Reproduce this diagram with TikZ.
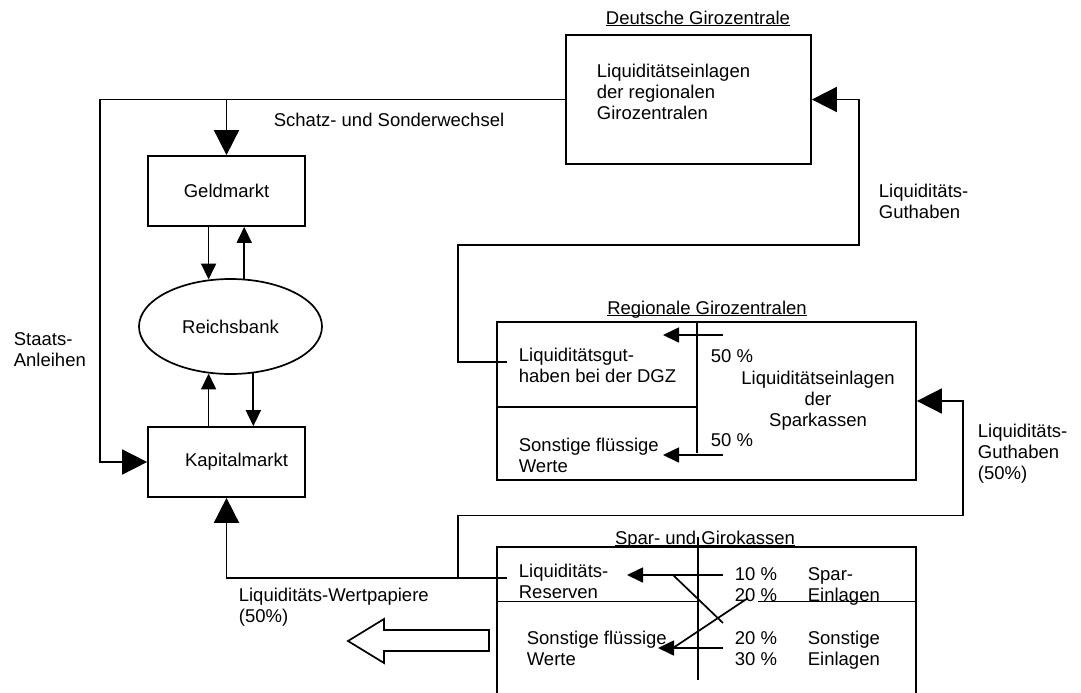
\documentclass[tikz,border=0pt]{standalone}
\usepackage{fontspec}
\setmainfont{Liberation Sans}
\usetikzlibrary{shapes.geometric,arrows.meta}
\newcommand{\ulined}[1]{\underline{\raisebox{0pt}[\height][0pt]{#1}}}
\tikzset{%
  block/.style = {draw, rectangle, inner sep=0pt},
  bank/.style  = {draw, ellipse, inner sep=0pt},
  txt/.style   = {anchor=north west, inner sep=0pt, align=left}, % Text links
  ctxt/.style  = {anchor=north, inner sep=0pt, align=center},   % Text mittig
  flow/.style  = {-{Triangle[length=25pt,width=25pt]}},
  share/.style = {-{Triangle[length=16pt,width=15pt]}}
}
\begin{document}
\begin{tikzpicture}[x=1pt, y=-1pt, line width=1.7pt, font=\fontsize{18.5}{21}\selectfont]
\useasboundingbox (0,0) rectangle (1081,693);
% Deutsche Girozentrale
\node[ctxt] (dgztitle) at (698,10) {\ulined{Deutsche Girozentrale}};
\node[block, minimum width=245, minimum height=129] (dgz) at (688.5,99.5) {};
\node[txt] (dgztext) at (596,63) {Liquiditätseinlagen\\der regionalen\\Girozentralen};
% Reichsbank und Maerkte
\node[block, minimum width=157, minimum height=70] (geld) at (226.5,191) {Geldmarkt};
\node[bank, minimum width=183, minimum height=95] (reich) at (230.5,326.5) {Reichsbank};
\node[block, minimum width=157, minimum height=70] (kapital) at (226.5,462) {\hspace{20pt}Kapitalmarkt};
\draw[share] (geld.south -| reich.115) -- (reich.115);
\draw[share] (reich.74) -- (geld.south -| reich.74);
\draw[share] (reich.245 |- kapital.north) -- (reich.245);
\draw[share] (reich.296) -- (reich.296 |- kapital.north);
\coordinate (staatsknick) at (100,99.5);
\draw[flow] (dgz.west) -- (staatsknick) |- (kapital.west);
\draw[flow] (geld.north |- dgz.west) -- (geld.north);
\node[txt] (schatz) at (273,112) {Schatz- und Sonderwechsel};
\node[txt] (staats) at (13,332) {Staats-\\Anleihen};
% Regionale Girozentralen
\node[ctxt] (rgztitle) at (707,300) {\ulined{Regionale Girozentralen}};
\node[block, minimum width=419, minimum height=158] (rgz) at (706.5,401) {};
\coordinate (rgzmitte) at (697,407);
\coordinate (rgzunten) at (697,453);
\draw (rgz.west |- rgzmitte) -- (rgzmitte);
\draw (rgz.north -| rgzmitte) -- (rgzunten);
\coordinate (dgzanteil) at (723,335);
\coordinate (dgzziel) at (663,335);
\coordinate (sonstanteil) at (723,455);
\coordinate (sonstziel) at (663,455);
\draw[share] (dgzanteil) -- (dgzziel);
\draw[share] (sonstanteil) -- (sonstziel);
\node[txt] (dgzgut) at (518,347) {Liquiditätsgut-\\haben bei der DGZ};
\node[txt] (rgzsonst) at (518,437) {Sonstige flüssige\\Werte};
\node[txt] (anteil1) at (710,349) {50 \%};
\node[txt] (anteil2) at (710,433) {50 \%};
\node[ctxt] (rgzeinlagen) at (818,370) {Liquiditätseinlagen\\der\\Sparkassen};
\coordinate (dgzgutein) at (507,362);
\coordinate (gutknick) at (458,245);
\coordinate (gutrechts) at (859,245);
\draw[flow] (dgzgutein) -| (gutknick) -- (gutrechts) |- (dgz.east);
\node[txt] (guthaben) at (878,183) {Liquiditäts-\\Guthaben};
% Spar- und Girokassen
\node[ctxt] (spartitle) at (705,530) {\ulined{Spar- und Girokassen}};
\draw (497,693) |- (916,547) -- (916,693);
\draw (497,601.5) -- (698,601.5);
\draw (758,601.5) -- (916,601.5);
\draw (698,537) -- (698,680);
\coordinate (reserveanteil) at (723,575);
\coordinate (reserveziel) at (627,575);
\coordinate (werteanteil) at (723,648);
\coordinate (werteziel) at (658,648);
\draw[share] (reserveanteil) -- (reserveziel);
\draw[share] (werteanteil) -- (werteziel);
\draw (673,575) -- (723,623);
\draw (748,598) -- (673,648);
\node[txt] (reserven) at (518,563) {Liquiditäts-\\Reserven};
\node[txt] (sparsonst) at (526,630) {Sonstige flüssige\\Werte};
\node[txt] (quote1) at (734,567) {10 \%\\20 \%};
\node[txt] (quote2) at (734,631) {20 \%\\30 \%};
\node[txt] (spareinl) at (807,567) {Spar-\\Einlagen};
\node[txt] (sonsteinl) at (807,630) {Sonstige\\Einlagen};
% Liquiditaets-Wertpapiere und -Guthaben
\coordinate (reservenein) at (507,578);
\draw[flow] (reservenein) -| (kapital.south);
\coordinate (sparknick) at (458,578);
\coordinate (sparrechts) at (963,515.5);
\draw[flow] (sparknick) |- (sparrechts) |- (rgz.east);
\node[txt] (wertpapiere) at (238,587) {Liquiditäts-Wertpapiere\\(50\%)};
\node[txt] (guthaben50) at (977,423) {Liquiditäts-\\Guthaben\\(50\%)};
\draw (489,630) -- (384,630) -- (384,619) -- (348,641) -- (384,663) -- (384,651) -- (489,651) -- cycle;
\end{tikzpicture}
\end{document}
